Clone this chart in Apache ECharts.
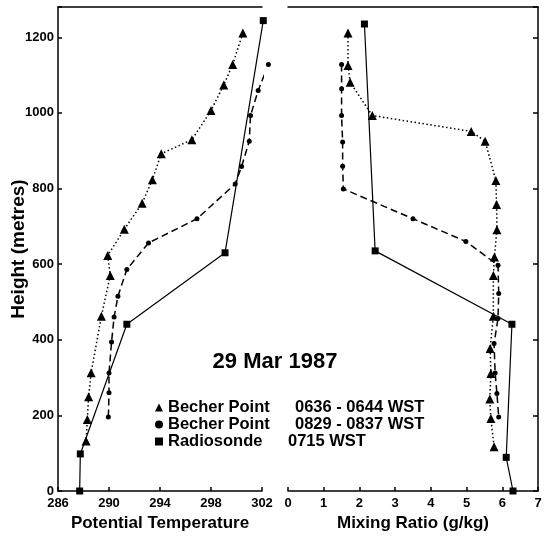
<!DOCTYPE html>
<html><head><meta charset="utf-8">
<script src="https://cdn.jsdelivr.net/npm/echarts@6/dist/echarts.min.js"></script>
<style>html,body{margin:0;padding:0;background:#fff}#c{width:553px;height:537px}</style>
</head><body><div id="c"></div>
<script>
// ---- data ----
var heightTicks = [0, 200, 400, 600, 800, 1000, 1200];
var tempTicks = [286, 290, 294, 298, 302];
var mixTicks = [0, 1, 2, 3, 4, 5, 6, 7];

// Potential temperature panel
var heightsTriT = [1211,1128,1074,1006,929,892,823,761,692,623,570,462,313,249,189,132];
var tempTri     = [300.5,299.7,299.0,298.0,296.5,294.1,293.4,292.6,291.2,289.9,290.1,289.4,288.6,288.4,288.3,288.2];
var heightsCirT = [1128,1059,993,925,858,812,720,656,586,515,460,394,312,260,196];
var tempCir     = [302.5,301.7,301.1,301.0,300.4,299.9,296.9,293.1,291.4,290.7,290.4,290.2,290.0,290.0,289.95];
var heightsSonT = [0,98,441,630,1244];
var tempSon     = [287.7,287.75,291.4,299.1,302.1];

// Mixing ratio panel
var heightsTriM = [1211,1125,1081,993,951,925,821,758,691,619,570,462,377,311,243,192,117];
var mixTri      = [1.68,1.68,1.74,2.36,5.13,5.52,5.82,5.84,5.85,5.78,5.75,5.75,5.66,5.68,5.65,5.68,5.77];
var heightsCirM = [1128,1064,993,923,859,799,720,660,597,522,456,390,312,258,196];
var mixCir      = [1.5,1.5,1.5,1.53,1.53,1.55,3.5,4.98,5.88,5.9,5.88,5.77,5.8,5.85,5.9];
var heightsSonM = [0,89,441,635,1235];
var mixSon      = [6.3,6.11,6.27,2.44,2.14];

var seriesNames = ['Becher Point 0636 - 0644 WST', 'Becher Point 0829 - 0837 WST', 'Radiosonde 0715 WST'];
var legendLeft = ['Becher Point', 'Becher Point', 'Radiosonde'];
var legendRight = ['0636 - 0644 WST', '0829 - 0837 WST', '0715 WST'];

// ---- chart ----
function pairs(xs, ys) { return xs.map(function (x, i) { return [x, ys[i]]; }); }
var FONT = "'Liberation Sans', Arial, Helvetica, sans-serif";
var black = '#000';

var chart = echarts.init(document.getElementById('c'), null, {renderer: 'canvas'});

function baseX(grid, min, max, interval, name, ticks) {
  return {
    type: 'value', gridIndex: grid, position: 'bottom', min: min, max: max, interval: interval,
    name: name, nameLocation: 'middle', nameGap: 23,
    nameTextStyle: {color: black, fontFamily: FONT, fontWeight: 'bold', fontSize: 17},
    axisLine: {show: true, onZero: false, lineStyle: {color: black, width: 1.5}},
    axisTick: {show: true, inside: true, length: 4, lineStyle: {color: black, width: 1.5}},
    axisLabel: {show: true, color: black, fontFamily: FONT, fontWeight: 'bold', fontSize: 13, margin: 6,
      formatter: function (v) { return ticks.indexOf(v) >= 0 ? String(v) : ''; }},
    splitLine: {show: false}
  };
}
function topX(grid, min, max) {
  return {type: 'value', gridIndex: grid, position: 'top', min: min, max: max,
    axisLine: {show: true, onZero: false, lineStyle: {color: black, width: 1.5}},
    axisTick: {show: false}, axisLabel: {show: false}, splitLine: {show: false}};
}

var option = {
  animation: false,
  backgroundColor: '#fff',
  title: {
    text: '29 Mar 1987', left: 270, top: 346, textAlign: 'center',
    textStyle: {color: black, fontFamily: FONT, fontWeight: 'bold', fontSize: 22}
  },
  legend: {
    orient: 'vertical', left: 150, top: 394, itemWidth: 8, itemHeight: 8, itemGap: 0,
    data: [
      {name: seriesNames[0], icon: 'triangle'},
      {name: seriesNames[1], icon: 'circle'},
      {name: seriesNames[2], icon: 'rect'}
    ],
    selectedMode: false,
    formatter: function (name) {
      var i = seriesNames.indexOf(name);
      return '{a' + i + '|' + legendLeft[i] + '}{b|' + legendRight[i] + '}';
    },
    textStyle: {
      color: black, fontFamily: FONT, fontWeight: 'bold', fontSize: 16.5, lineHeight: 16,
      rich: {
        a0: {width: 127, fontFamily: FONT, fontWeight: 'bold', fontSize: 16.5, color: black},
        a1: {width: 127, fontFamily: FONT, fontWeight: 'bold', fontSize: 16.5, color: black},
        a2: {width: 120, fontFamily: FONT, fontWeight: 'bold', fontSize: 16.5, color: black},
        b: {fontFamily: FONT, fontWeight: 'bold', fontSize: 16.5, color: black}
      }
    }
  },
  grid: [
    {left: 58, right: 291, top: 7, bottom: 46},
    {left: 288, right: 15, top: 7, bottom: 46}
  ],
  xAxis: [
    baseX(0, 286, 302, 4, 'Potential Temperature', tempTicks),
    baseX(1, 0, 7, 1, 'Mixing Ratio (g/kg)', mixTicks),
    topX(0, 286, 302),
    topX(1, 0, 7)
  ],
  yAxis: [
    {
      type: 'value', gridIndex: 0, position: 'left', min: 0, max: 1280, interval: 200,
      name: 'Height (metres)', nameLocation: 'middle', nameGap: 30, nameMoveOverlap: false,
      nameTextStyle: {color: black, fontFamily: FONT, fontWeight: 'bold', fontSize: 19},
      axisLine: {show: true, onZero: false, lineStyle: {color: black, width: 1.5}},
      axisTick: {show: true, inside: true, length: 4, lineStyle: {color: black, width: 1.5}},
      axisLabel: {color: black, fontFamily: FONT, fontWeight: 'bold', fontSize: 13, margin: 4,
        formatter: function (v) { return heightTicks.indexOf(v) >= 0 ? String(v) : ''; }},
      splitLine: {show: false}
    },
    {
      type: 'value', gridIndex: 1, position: 'right', min: 0, max: 1280, interval: 200,
      axisLine: {show: true, onZero: false, lineStyle: {color: black, width: 1.5}},
      axisTick: {show: true, inside: true, length: 5, lineStyle: {color: black, width: 1.5}},
      axisLabel: {show: false}, splitLine: {show: false}
    }
  ],
  series: [
    {name: seriesNames[0], type: 'line', xAxisIndex: 0, yAxisIndex: 0, clip: false,
     data: pairs(tempTri, heightsTriT), symbol: 'triangle', symbolSize: 9,
     itemStyle: {color: black}, lineStyle: {color: black, width: 1.5, type: [1.5, 2.5]}},
    {name: seriesNames[1], type: 'line', xAxisIndex: 0, yAxisIndex: 0, clip: false,
     data: pairs(tempCir, heightsCirT), symbol: 'circle', symbolSize: 5,
     itemStyle: {color: black}, lineStyle: {color: black, width: 1.5, type: [7, 4]}},
    {name: seriesNames[2], type: 'line', xAxisIndex: 0, yAxisIndex: 0, clip: false,
     data: pairs(tempSon, heightsSonT), symbol: 'rect', symbolSize: 7,
     itemStyle: {color: black}, lineStyle: {color: black, width: 1.2}},
    {name: seriesNames[0], type: 'line', xAxisIndex: 1, yAxisIndex: 1, clip: false,
     data: pairs(mixTri, heightsTriM), symbol: 'triangle', symbolSize: 9,
     itemStyle: {color: black}, lineStyle: {color: black, width: 1.5, type: [1.5, 2.5]}},
    {name: seriesNames[1], type: 'line', xAxisIndex: 1, yAxisIndex: 1, clip: false,
     data: pairs(mixCir, heightsCirM), symbol: 'circle', symbolSize: 5,
     itemStyle: {color: black}, lineStyle: {color: black, width: 1.5, type: [7, 4]}},
    {name: seriesNames[2], type: 'line', xAxisIndex: 1, yAxisIndex: 1, clip: false,
     data: pairs(mixSon, heightsSonM), symbol: 'rect', symbolSize: 7,
     itemStyle: {color: black}, lineStyle: {color: black, width: 1.2}}
  ]
};
chart.setOption(option);
</script>
</body></html>
